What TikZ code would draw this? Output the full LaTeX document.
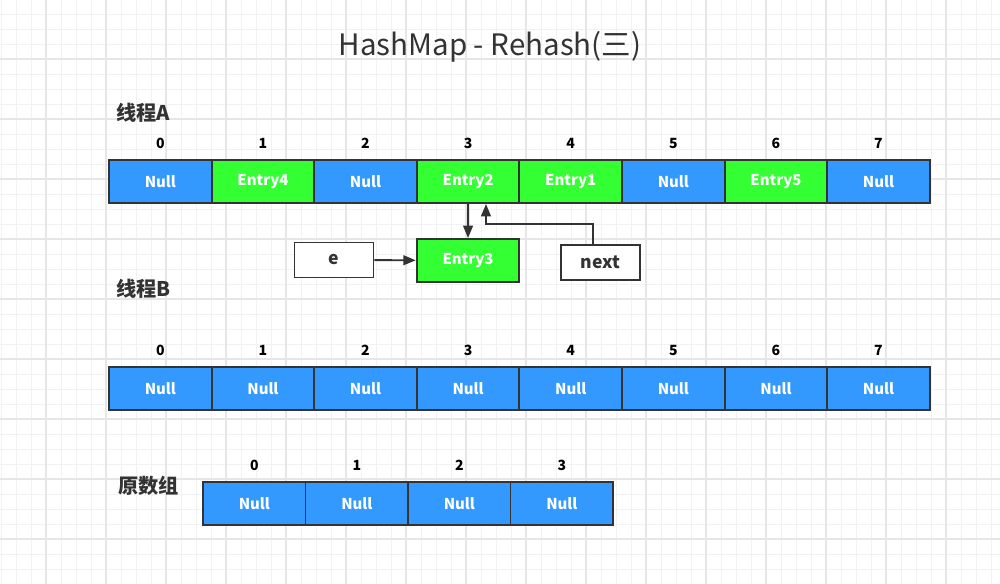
\documentclass[tikz,border=0pt]{standalone}
\usepackage{fontspec}
\setmainfont{Noto Sans CJK SC}
\usetikzlibrary{arrows.meta}
\definecolor{nullblue}{HTML}{3399FF}
\definecolor{entgreen}{HTML}{33FF33}
\definecolor{ink}{HTML}{333333}
\definecolor{gridminor}{HTML}{F2F2F2}
\definecolor{gridmajor}{HTML}{E6E6E6}

\begin{document}
\begin{tikzpicture}[x=0.02cm,y=-0.02cm,
  cell/.style={draw=ink, line width=1.1pt, minimum width=2.052cm, minimum height=0.86cm, inner sep=0pt, text=white, font=\bfseries\fontsize{8.5}{10}\selectfont},
  nul/.style={cell, fill=nullblue},
  ent/.style={cell, fill=entgreen},
  ptr/.style={draw=ink, line width=1.1pt, fill=white, minimum width=1.58cm, minimum height=0.7cm, inner sep=0pt, text=ink, font=\bfseries\fontsize{10}{12}\selectfont},
  idx/.style={font=\bfseries\fontsize{8}{9}\selectfont},
  lbl/.style={anchor=west, inner sep=0pt, text=ink, font=\bfseries\fontsize{11.5}{13}\selectfont},
  arr/.style={-{Triangle[length=7pt,width=5.5pt]}, line width=1.1pt, draw=ink}]
\useasboundingbox (0,0) rectangle (1000,584);
% background grid
\fill[white] (0,0) rectangle (1000,584);
\foreach \gx in {1,16,...,1000} \draw[gridminor, line width=0.5pt] (\gx,0) -- (\gx,584);
\foreach \gy in {14,29,...,584} \draw[gridminor, line width=0.5pt] (0,\gy) -- (1000,\gy);
\foreach \gx in {46,106,...,1000} \draw[gridmajor, line width=0.6pt] (\gx,0) -- (\gx,584);
\foreach \gy in {59,119,...,584} \draw[gridmajor, line width=0.6pt] (0,\gy) -- (1000,\gy);

\node[text=ink, font=\fontsize{16.8}{19}\selectfont] (title) at (490,47) {HashMap - Rehash(三)};

% thread A
\node[lbl] (thA) at (116,113) {线程A};
\foreach \i/\txt/\sty in {0/Null/nul,1/Entry4/ent,2/Null/nul,3/Entry2/ent,4/Entry1/ent,5/Null/nul,6/Entry5/ent,7/Null/nul} {
  \node[\sty] (a\i) at (160.3+102.6*\i,181.5) {\txt};
  \node[idx] (ia\i) at (160.3+102.6*\i,143) {\i};
}
\node[ent] (e3) at (468,260.5) {Entry3};
\node[ptr] (e) at (334,260) {e};
\node[ptr] (nx) at (600.5,262.5) {next};
\coordinate (bend) at (486,224);
\draw[arr] (a3) -- (e3);
\draw[arr] (e) -- (e3);
\draw[arr] ([xshift=-0.15cm]nx.north) |- (bend) -- (bend |- a3.south);

% thread B
\node[lbl] (thB) at (116,289) {线程B};
\foreach \i in {0,...,7} {
  \node[nul] (b\i) at (160.3+102.6*\i,388.5) {Null};
  \node[idx] (ib\i) at (160.3+102.6*\i,350) {\i};
}

% old table
\node[lbl] (old) at (118,486) {原数组};
\foreach \i in {0,...,3} {
  \node[nul] (o\i) at (254.3+102.5*\i,503.5) {Null};
  \node[idx] (io\i) at (254.3+102.5*\i,465) {\i};
}
\end{tikzpicture}
\end{document}
